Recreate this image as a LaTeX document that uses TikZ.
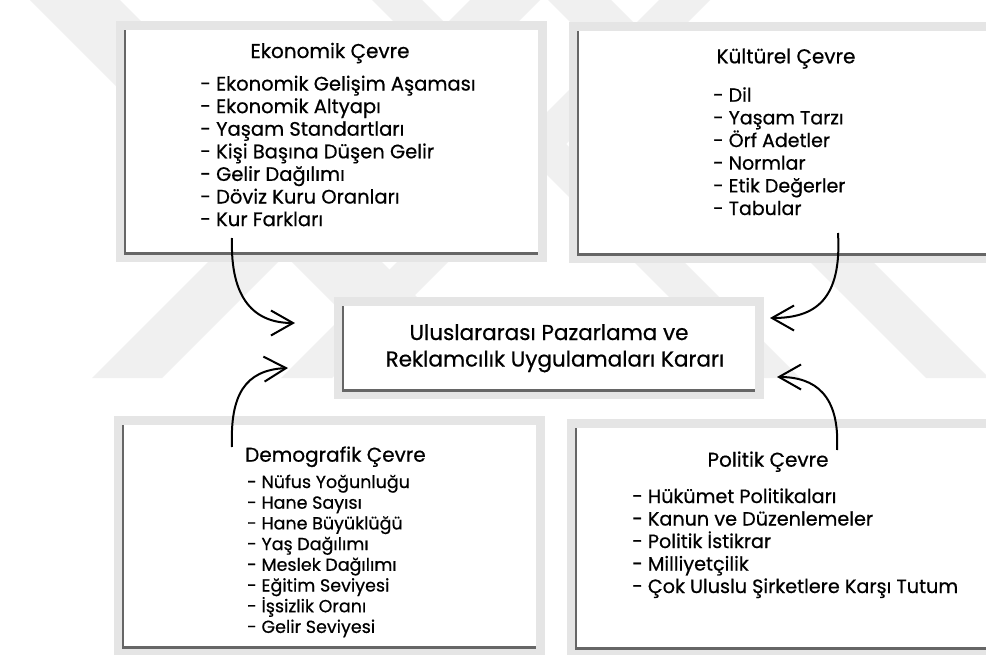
\documentclass[tikz,border=0pt]{standalone}
\usepackage{fontspec}
\setmainfont{Poppins}[FakeBold=0.6]
\usetikzlibrary{arrows.meta}
\begin{document}
\begin{tikzpicture}[x=1pt,y=-1pt,
  wm/.style={fill=gray!12},
  panel/.style={fill=white, inner sep=0pt, anchor=north west, preaction={draw=gray!20, line width=18pt}},
  edgeline/.style={draw=black!60, line width=2.3pt},
  ttl/.style={font=\fontsize{20}{24}\selectfont, inner sep=0pt, text=black},
  itm/.style={inner sep=0pt, text=black, anchor=base west},
  conn/.style={line width=2pt, -{Straight Barb[length=22pt,width=25pt]}}
]
\useasboundingbox (0,0) rectangle (986,654);
\fill[white] (0,0) rectangle (986,654);
% watermark
\fill[wm] (30,0) -- (120,0) -- (498,378) -- (408,378) -- cycle;
\fill[wm] (470,0) -- (540,0) -- (162,378) -- (92,378) -- cycle;
\fill[wm] (659,0) -- (710,0) -- (332,378) -- (281,378) -- cycle;
\fill[wm] (372,0) -- (422,0) -- (800,378) -- (750,378) -- cycle;
\fill[wm] (548,0) -- (611,0) -- (989,378) -- (926,378) -- cycle;
% panels
\node[panel, minimum width=413pt, minimum height=223pt] (eko) at (125,30) {};
\node[panel, minimum width=420pt, minimum height=223pt] (kul) at (578,31) {};
\node[panel, minimum width=412pt, minimum height=84pt] (mid) at (343,306) {};
\node[panel, minimum width=413pt, minimum height=222pt] (demo) at (123,425) {};
\node[panel, minimum width=420pt, minimum height=220pt] (pol) at (576,428) {};
\foreach \b in {eko,kul,mid,demo,pol}
  \draw[edgeline] (\b.north west) -- (\b.south west) -- (\b.south east);
% titles
\node[ttl, anchor=base] (ekot) at (330,58) {Ekonomik Çevre};
\node[ttl, anchor=base] (kult) at (786,63.3) {Kültürel Çevre};
\node[ttl, anchor=base west] (demot) at (245,461.7) {Demografik Çevre};
\node[ttl, anchor=base] (polt) at (768,466.7) {Politik Çevre};
\node[ttl, font=\fontsize{21.5}{26}\selectfont, anchor=base] (mid1) at (549,340) {Uluslararası Pazarlama ve};
\node[ttl, font=\fontsize{21.5}{26}\selectfont, anchor=base] (mid2) at (555,366.5) {Reklamcılık Uygulamaları Kararı};
% items
\foreach \t [count=\i] in {- Ekonomik Gelişim Aşaması, - Ekonomik Altyapı, - Yaşam Standartları, - Kişi Başına Düşen Gelir, - Gelir Dağılımı, - Döviz Kuru Oranları, - Kur Farkları}
  \node[itm, font=\fontsize{19.5}{24}\selectfont] (eko\i) at (200,{90.5+22.6*(\i-1)}) {\t};
\foreach \t [count=\i] in {- Dil, - Yaşam Tarzı, - Örf Adetler, - Normlar, - Etik Değerler, - Tabular}
  \node[itm, font=\fontsize{19}{24}\selectfont] (kul\i) at (713,{101.7+22.66*(\i-1)}) {\t};
\foreach \t [count=\i] in {- Nüfus Yoğunluğu, - Hane Sayısı, - Hane Büyüklüğü, - Yaş Dağılımı, - Meslek Dağılımı, - Eğitim Seviyesi, - İşsizlik Oranı, - Gelir Seviyesi}
  \node[itm, font=\fontsize{17.5}{22}\selectfont] (demo\i) at (247,{488+20.7*(\i-1)}) {\t};
\foreach \t [count=\i] in {- Hükümet Politikaları, - Kanun ve Düzenlemeler, - Politik İstikrar, - Milliyetçilik, - Çok Uluslu Şirketlere Karşı Tutum}
  \node[itm, font=\fontsize{19.2}{24}\selectfont] (pol\i) at (632,{503+22.5*(\i-1)}) {\t};
% connectors
\coordinate (a1s) at (232,238); \coordinate (a1t) at (295,323);
\coordinate (a2s) at (232,447); \coordinate (a2t) at (288,368);
\coordinate (a3s) at (838,233); \coordinate (a3t) at (770,318);
\coordinate (a4s) at (837,450); \coordinate (a4t) at (777,377);
\draw[conn] (a1s) .. controls (230,300) and (255,323) .. (a1t);
\draw[conn] (a2s) .. controls (230,395) and (245,370) .. (a2t);
\draw[conn] (a3s) .. controls (842,300) and (815,318) .. (a3t);
\draw[conn] (a4s) .. controls (840,395) and (815,377) .. (a4t);
\end{tikzpicture}
\end{document}
